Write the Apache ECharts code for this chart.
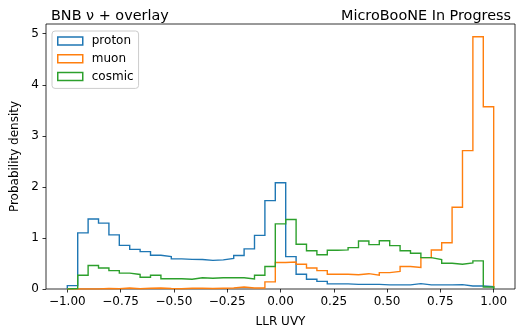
<!DOCTYPE html>
<html>
<head>
<meta charset="utf-8">
<script src="https://cdn.jsdelivr.net/npm/echarts@6/dist/echarts.min.js"></script>
<style>
  html, body { margin: 0; padding: 0; background: #fff; }
  #chart { width: 516px; height: 333px; }
</style>
</head>
<body>
<div id="chart"></div>
<script>
// Histogram binning of the LLR UVY score: 41 equal bins on [-1, 1]
const binLow = -1;
const binHigh = 1;
const binCount = 41;

// Normalised densities per bin (left to right)
const proton = [0.066, 1.10, 1.37, 1.29, 1.06, 0.855, 0.777, 0.732, 0.66, 0.635,
  0.59, 0.58, 0.577, 0.56, 0.57, 0.60, 0.655, 0.785, 1.05, 1.73,
  2.08, 0.635, 0.29, 0.19, 0.15, 0.10, 0.10, 0.09, 0.09, 0.09,
  0.08, 0.08, 0.08, 0.105, 0.08, 0.08, 0.08, 0.085, 0.06, 0.06, 0.045];
const muon = [0, 0, 0, 0.01, 0.005, 0.02, 0.005, 0.015, 0.02, 0.01,
  0.005, 0.015, 0.015, 0.01, 0.015, 0.02, 0.04, 0.02, 0.02, 0.14,
  0.52, 0.53, 0.485, 0.41, 0.36, 0.29, 0.29, 0.28, 0.30, 0.27,
  0.32, 0.343, 0.44, 0.42, 0.615, 0.765, 0.906, 1.6, 2.71, 4.94, 3.57];
const cosmic = [0.01, 0.27, 0.46, 0.41, 0.36, 0.31, 0.285, 0.23, 0.27, 0.20,
  0.20, 0.19, 0.22, 0.21, 0.22, 0.22, 0.22, 0.195, 0.27, 0.44,
  1.276, 1.36, 0.875, 0.75, 0.67, 0.76, 0.765, 0.81, 0.94, 0.87,
  0.945, 0.85, 0.75, 0.70, 0.615, 0.577, 0.505, 0.485, 0.51, 0.55, 0.04];

const seriesNames = ['proton', 'muon', 'cosmic'];
const xTicks = [-1.0, -0.75, -0.5, -0.25, 0, 0.25, 0.5, 0.75, 1.0];
const yTicks = [0, 1, 2, 3, 4, 5];

const colors = ['#1f77b4', '#ff7f0e', '#2ca02c'];

const edges = [];
for (let k = 0; k <= binCount; k++) edges.push(binLow + k * (binHigh - binLow) / binCount);

// Outline of a step histogram: rise at the first edge, run across each bin, drop at the last edge
function stepOutline(values) {
  const pts = [[edges[0], 0]];
  for (let k = 0; k < values.length; k++) pts.push([edges[k + 1], values[k]]);
  pts.push([edges[binCount], 0]);
  return pts;
}

const fmtX = v => (v < 0 ? '\u2212' : '') + Math.abs(v).toFixed(2);

const font = 'DejaVu Sans';
const chart = echarts.init(document.getElementById('chart'), null, { renderer: 'canvas' });

chart.setOption({
  animation: false,
  textStyle: { fontFamily: font },
  title: [
    { text: 'BNB \u03bd + overlay', left: 46, top: 4,
      textStyle: { fontFamily: font, fontSize: 14.4, fontWeight: 'normal', color: '#000' } },
    { text: 'MicroBooNE In Progress', right: 0, top: 4,
      textStyle: { fontFamily: font, fontSize: 14.4, fontWeight: 'normal', color: '#000' } }
  ],
  grid: { left: 46, top: 24, width: 469, height: 268, show: true,
    borderColor: '#000', borderWidth: 0.8, backgroundColor: '#fff', containLabel: false },
  legend: {
    orient: 'vertical', left: 52, top: 31,
    itemWidth: 25, itemHeight: 8, itemGap: 5.7,
    padding: [4, 5, 6, 5],
    backgroundColor: '#fff', borderColor: '#ccc', borderWidth: 1, borderRadius: 3,
    textStyle: { fontFamily: font, fontSize: 12, color: '#000', padding: [0, 0, 0, 4] },
    data: seriesNames.map((n, i) => ({
      name: n, icon: 'rect',
      itemStyle: { color: 'rgba(255,255,255,0)', borderColor: colors[i], borderWidth: 1.5 }
    }))
  },
  xAxis: {
    type: 'value', min: -1.1, max: 1.1,
    name: 'LLR UVY', nameLocation: 'middle', nameGap: 27,
    nameTextStyle: { fontFamily: font, fontSize: 12, color: '#000' },
    axisLine: { show: false, onZero: false },
    axisTick: { show: true, inside: false, length: 3.5, customValues: xTicks,
      lineStyle: { color: '#000', width: 0.8 } },
    axisLabel: { customValues: xTicks, formatter: fmtX, margin: 7,
      fontFamily: font, fontSize: 12, color: '#000' },
    splitLine: { show: false }
  },
  yAxis: {
    type: 'value', min: 0, max: 5.19,
    name: 'Probability density', nameLocation: 'middle', nameGap: 22, nameRotate: 90,
    nameTextStyle: { fontFamily: font, fontSize: 12, color: '#000' },
    axisLine: { show: false, onZero: false },
    axisTick: { show: true, inside: false, length: 3.5, customValues: yTicks,
      lineStyle: { color: '#000', width: 0.8 } },
    axisLabel: { customValues: yTicks, margin: 7,
      fontFamily: font, fontSize: 12, color: '#000' },
    splitLine: { show: false }
  },
  series: [proton, muon, cosmic].map((vals, i) => ({
    name: seriesNames[i],
    type: 'line',
    step: 'start',
    data: stepOutline(vals),
    showSymbol: false,
    symbol: 'none',
    clip: true,
    color: colors[i],
    lineStyle: { color: colors[i], width: 1.4, join: 'miter' },
    z: 2 + i
  }))
});
</script>
</body>
</html>
